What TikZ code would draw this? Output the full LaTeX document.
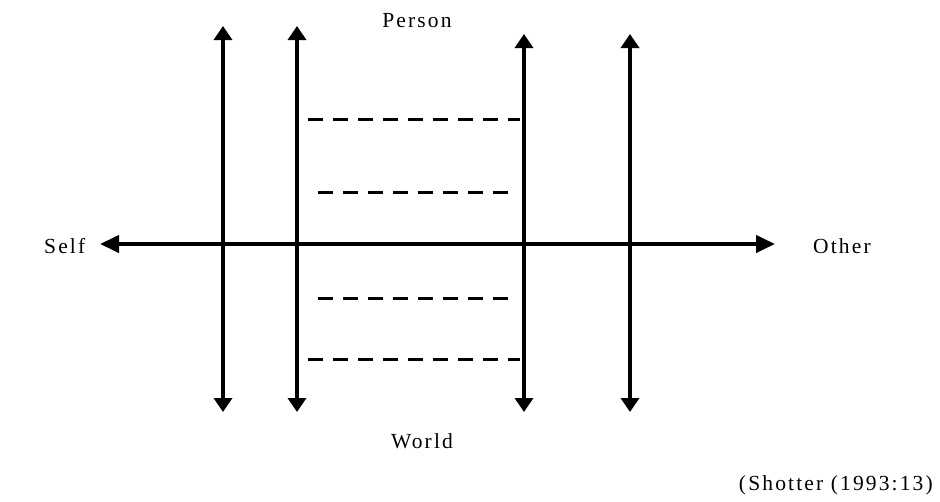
\documentclass[tikz,border=0pt]{standalone}
\usepackage{fontspec}
\setmainfont{Liberation Serif}[LetterSpace=10]
\usetikzlibrary{arrows.meta}
\begin{document}
\begin{tikzpicture}[x=1pt,y=-1pt,
  axis/.style={line width=4pt,{Triangle[length=14pt,width=18pt]}-{Triangle[length=14pt,width=18pt]}},
  haxis/.style={line width=4pt,{Triangle[length=19pt,width=17pt]}-{Triangle[length=19pt,width=17pt]}},
  dashrow/.style={line width=3pt,dash pattern=on 15pt off 10pt},
  lbl/.style={inner sep=0pt,font=\fontsize{21.5}{25}\selectfont},
  every node/.style={inner sep=0pt}]
\useasboundingbox (0,0) rectangle (940,501);
% endpoints
\coordinate (hl) at (100,244);
\coordinate (hr) at (775,244);
\coordinate (a1) at (223,26);  \coordinate (b1) at (223,412);
\coordinate (a2) at (297,26);  \coordinate (b2) at (297,412);
\coordinate (a3) at (524,34);  \coordinate (b3) at (524,412);
\coordinate (a4) at (630,34);  \coordinate (b4) at (630,412);
\coordinate (d1l) at (308,119); \coordinate (d1r) at (520,119);
\coordinate (d2l) at (318,192); \coordinate (d2r) at (508,192);
\coordinate (d3l) at (318,298); \coordinate (d3r) at (508,298);
\coordinate (d4l) at (308,359); \coordinate (d4r) at (520,359);
% axes
\draw[haxis] (hl) -- (hr);
\draw[axis] (a1) -- (b1);
\draw[axis] (a2) -- (b2);
\draw[axis] (a3) -- (b3);
\draw[axis] (a4) -- (b4);
% dashed rows
\draw[dashrow] (d1l) -- (d1r);
\draw[dashrow] (d2l) -- (d2r);
\draw[dashrow] (d3l) -- (d3r);
\draw[dashrow] (d4l) -- (d4r);
% labels
\node[lbl,anchor=base] (person) at (417,27) {Person};
\node[lbl,anchor=base] (world) at (422,448) {World};
\node[lbl,anchor=base west] (self) at (44,253) {Self};
\node[lbl,anchor=base west] (other) at (813,253) {Other};
\node[lbl,anchor=base east] (src) at (933,490) {(Shotter (1993:13)};
\end{tikzpicture}
\end{document}
